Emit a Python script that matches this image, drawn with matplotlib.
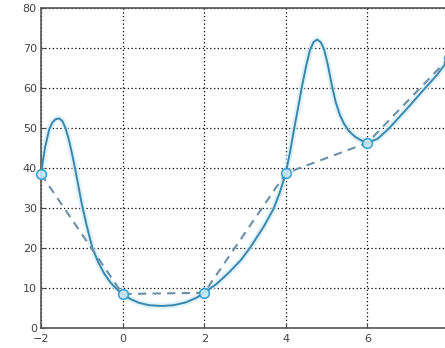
import matplotlib
matplotlib.use('Agg')
import matplotlib.pyplot as plt


# sample points (circles + dashed line)
pts_x = [-2, 0, 2, 4, 6, 8]
pts_y = [38.5, 8.5, 8.8, 38.7, 46.3, 67.5]

# smooth curve
curve_x = [-2.0, -1.95, -1.9, -1.8, -1.72, -1.64, -1.56, -1.48, -1.4, -1.32,
           -1.24, -1.16, -1.08, -1.0, -0.88, -0.74, -0.6, -0.45, -0.3, -0.15,
           0.0, 0.2, 0.4, 0.65, 0.95, 1.25, 1.55, 1.8, 2.0, 2.3,
           2.6, 2.9, 3.12, 3.45, 3.7, 3.85, 4.0, 4.1, 4.19, 4.3,
           4.4, 4.5, 4.59, 4.68, 4.77, 4.86, 4.94, 5.03, 5.13, 5.22,
           5.32, 5.43, 5.55, 5.7, 5.85, 6.0, 6.25, 6.5, 6.95, 7.4,
           7.7, 7.9, 8.0]
curve_y = [38.5, 42.0, 45.2, 49.6, 51.4, 52.2, 52.4, 51.8, 50.0, 47.2,
           43.6, 39.6, 35.3, 31.0, 25.6, 20.0, 16.5, 13.6, 11.4, 9.8,
           8.5, 7.2, 6.3, 5.7, 5.5, 5.7, 6.4, 7.5, 8.8, 11.0,
           13.8, 17.0, 20.0, 25.2, 29.8, 33.8, 38.7, 43.8, 49.0, 55.0,
           60.6, 65.6, 69.4, 71.5, 72.1, 71.4, 69.6, 65.8, 60.6, 56.6,
           53.4, 51.0, 49.2, 47.8, 46.9, 46.3, 47.3, 49.6, 54.6, 59.8,
           63.2, 65.9, 67.5]

x_ticks = [-2, 0, 2, 4, 6]
y_ticks = [0, 10, 20, 30, 40, 50, 60, 70, 80]


fig = plt.figure(figsize=(4.45, 3.48), dpi=100)
# right edge of the axes runs off the picture, like the cropped original
ax = fig.add_axes([41 / 445, 20 / 348, 408 / 445, 320 / 348])

# faint halo around the solid curve
ax.plot(curve_x, curve_y, color='#c9ebf7', lw=4.5, alpha=0.6, zorder=2,
        solid_capstyle='round')
ax.plot(curve_x, curve_y, color='#3d86ab', lw=1.4, zorder=3)
ax.plot(pts_x, pts_y, color='#6e8fa8', lw=1.5, ls=(0, (4, 3)), zorder=3)
ax.plot(pts_x, pts_y, ls='none', marker='o', ms=7, mfc='#c6e9f6',
        mec='#2b9ad0', mew=1.2, alpha=0.9, zorder=4, clip_on=False)

ax.set_xlim(-2, 8)
ax.set_ylim(0, 80)
ax.set_xticks(x_ticks)
ax.set_yticks(y_ticks)

ax.grid(True, color='black', ls=(0, (1, 2)), lw=0.9)
ax.tick_params(direction='in', length=3, width=0.8, colors='#444444',
               labelsize=8, pad=3, top=False, right=False)
ax.tick_params(axis='x', pad=4)

for side in ['left', 'bottom', 'top']:
    ax.spines[side].set_color('#555555')
    ax.spines[side].set_linewidth(1.2)
ax.spines['right'].set_visible(False)

fig.savefig('out.png', dpi=100)
